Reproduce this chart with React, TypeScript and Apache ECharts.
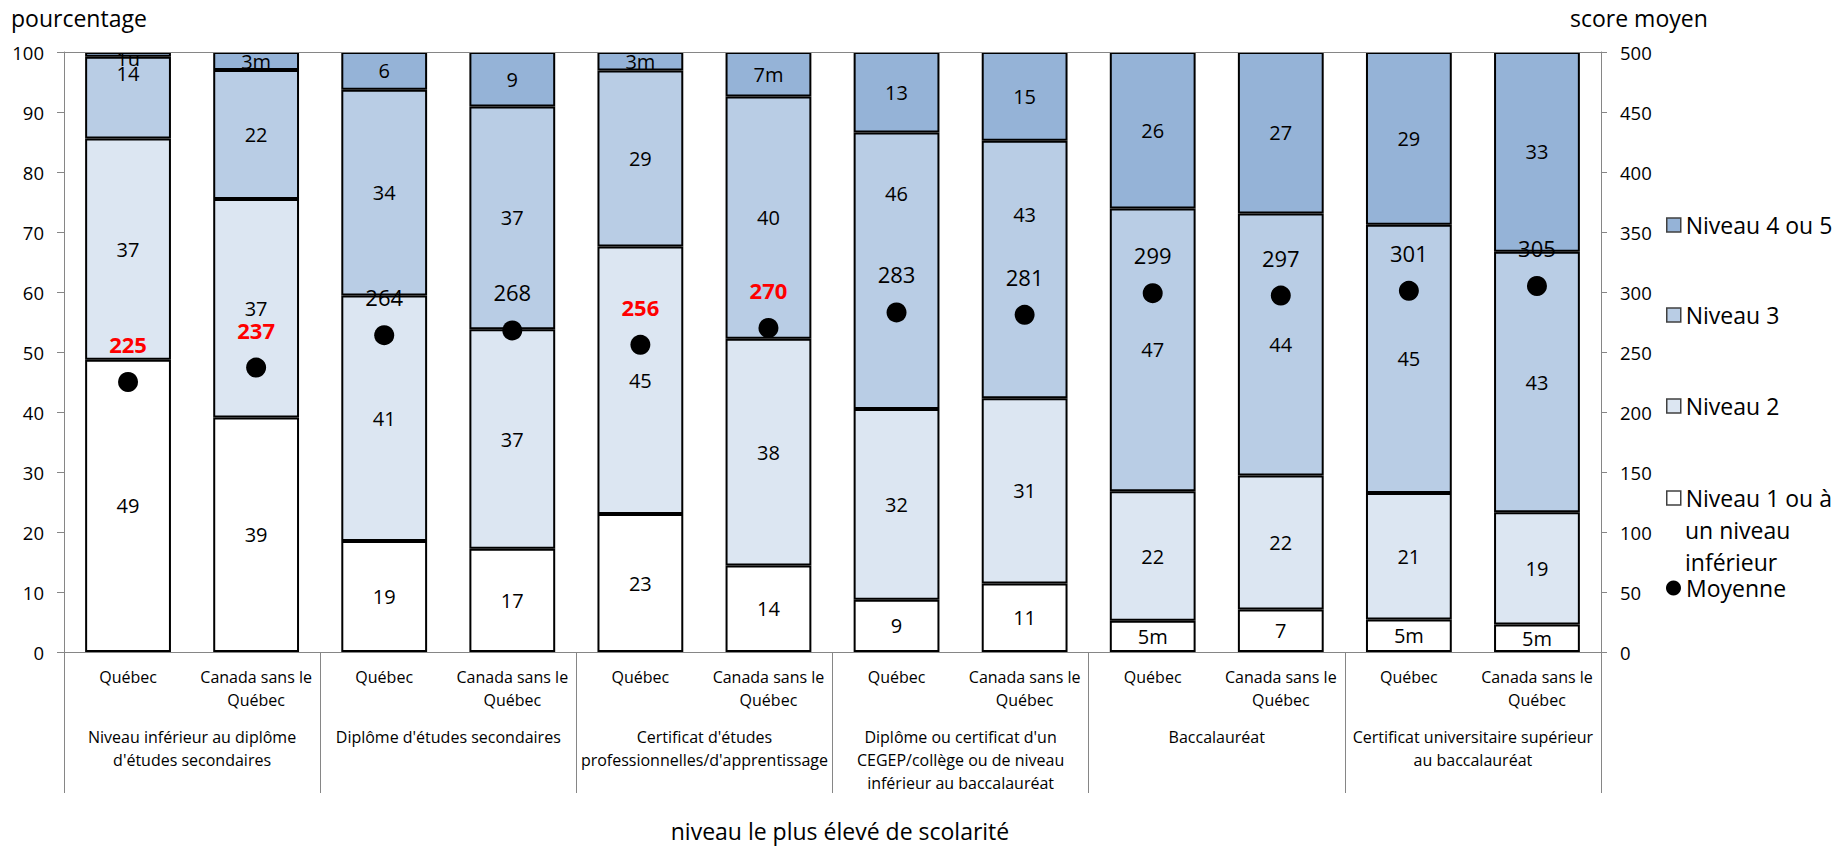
import React, { useEffect, useRef } from 'react';
import * as echarts from 'echarts';

const categories = [
  'Québec', 'Canada sans le\nQuébec',
  'Québec', 'Canada sans le\nQuébec',
  'Québec', 'Canada sans le\nQuébec',
  'Québec', 'Canada sans le\nQuébec',
  'Québec', 'Canada sans le\nQuébec',
  'Québec', 'Canada sans le\nQuébec',
];

const groupLabels = [
  'Niveau inférieur au diplôme\nd\'études secondaires',
  'Diplôme d\'études secondaires',
  'Certificat d\'études\nprofessionnelles/d\'apprentissage',
  'Diplôme ou certificat d\'un\nCEGEP/collège ou de niveau\ninférieur au baccalauréat',
  'Baccalauréat',
  'Certificat universitaire supérieur\nau baccalauréat',
];

const seriesNames = ['Niveau 1 ou à un niveau inférieur', 'Niveau 2', 'Niveau 3', 'Niveau 4 ou 5', 'Moyenne'];

const niveau1 = [48.7, 39.1, 18.5, 17.2, 23.0, 14.4, 8.7, 11.4, 5.2, 7.1, 5.4, 4.6];
const niveau2 = [36.9, 36.4, 40.9, 36.6, 44.6, 37.8, 31.8, 30.9, 21.6, 22.3, 21.1, 18.7];
const niveau3 = [13.6, 21.5, 34.3, 37.1, 29.3, 40.4, 46.1, 42.9, 47.1, 43.7, 44.7, 43.4];
const niveau45 = [0.8, 3.0, 6.3, 9.1, 3.1, 7.4, 13.4, 14.8, 26.1, 26.9, 28.8, 33.3];

const labels1 = ['49', '39', '19', '17', '23', '14', '9', '11', '5m', '7', '5m', '5m'];
const labels2 = ['37', '37', '41', '37', '45', '38', '32', '31', '22', '22', '21', '19'];
const labels3 = ['14', '22', '34', '37', '29', '40', '46', '43', '47', '44', '45', '43'];
const labels45 = ['1u', '3m', '6', '9', '3m', '7m', '13', '15', '26', '27', '29', '33'];

const moyenne = [225, 237, 264, 268, 256, 270, 283, 281, 299, 297, 301, 305];
const moyenneSignificative = [true, true, false, false, true, true, false, false, false, false, false, false];

const leftTicks = { min: 0, max: 100, interval: 10 };
const rightTicks = { min: 0, max: 500, interval: 50 };

// label shifts (px) to reproduce manually moved data labels
const shift3 = [-24, 0, 0, 0, 0, 0, -77, -55, 0, 0, 0, 0];
const shift45 = [4, 0, 0, 0, 0, 0, 0, 0, 0, 0, 0, 0];

const FONT = 'Open Sans';
const AXIS_GRAY = '#868686';
const colors = ['#FFFFFF', '#DCE6F2', '#B9CDE5', '#95B3D7'];

function barSeries(name: string, values: number[], texts: string[], color: string, shifts?: number[]) {
  return {
    name,
    type: 'bar',
    stack: 'total',
    barWidth: '67%',
    xAxisIndex: 0,
    yAxisIndex: 0,
    itemStyle: { color, borderColor: '#000000', borderWidth: 2, opacity: 1 },
    data: values.map((v, i) => {
      const item: any = { value: v };
      if (shifts && shifts[i]) item.label = { offset: [0, shifts[i]] };
      return item;
    }),
    label: {
      show: true,
      position: 'inside',
      fontFamily: FONT,
      fontSize: 20,
      color: '#000000',
      formatter: (p: any) => texts[p.dataIndex],
    },
  };
}

export default function App() {
  const ref = useRef<HTMLDivElement>(null);
  useEffect(() => {
    if (!ref.current) return;
    const chart = echarts.init(ref.current, null, { renderer: 'svg' });

    const legendCommon = {
      orient: 'vertical',
      left: 1666,
      padding: 0,
      itemWidth: 14,
      itemHeight: 14,
      icon: 'rect',
      selectedMode: false,
      textStyle: { fontFamily: FONT, fontSize: 23, lineHeight: 32, color: '#000000' },
      itemStyle: { borderColor: '#404040', borderWidth: 1.5, opacity: 1 },
    };

    const n4 = barSeries(seriesNames[3], niveau45, labels45, colors[3], shift45) as any;
    n4.markLine = {
      silent: true,
      symbol: ['none', 'none'],
      label: { show: false },
      lineStyle: { color: AXIS_GRAY, type: 'solid', width: 1 },
      data: [{ yAxis: 100 }],
    };

    const option: any = {
      animation: false,
      backgroundColor: '#ffffff',
      textStyle: { fontFamily: FONT },
      grid: { left: 64, right: 246, top: 52, bottom: 194, containLabel: false },
      legend: [
        { ...legendCommon, data: [seriesNames[3]], top: 209 },
        { ...legendCommon, data: [seriesNames[2]], top: 299 },
        { ...legendCommon, data: [seriesNames[1]], top: 390 },
        { ...legendCommon, data: [seriesNames[0]], top: 482, formatter: () => 'Niveau 1 ou à' },
        {
          ...legendCommon,
          data: [seriesNames[4]],
          top: 572,
          icon: 'circle',
          itemWidth: 15,
          itemHeight: 15,
          itemStyle: { borderWidth: 0, color: '#000000', opacity: 1 },
        },
      ],
      xAxis: [
        {
          type: 'category',
          data: categories,
          position: 'bottom',
          axisLine: { show: true, lineStyle: { color: AXIS_GRAY, width: 1 } },
          axisTick: { show: false },
          axisLabel: {
            interval: 0,
            margin: 13,
            fontFamily: FONT,
            fontSize: 16,
            lineHeight: 23,
            color: '#000000',
          },
          splitLine: { show: false },
        },
        {
          type: 'category',
          data: groupLabels,
          position: 'bottom',
          gridIndex: 0,
          axisLine: { show: false },
          axisTick: { show: true, length: 141, interval: 0, lineStyle: { color: AXIS_GRAY, width: 1 } },
          axisLabel: {
            interval: 0,
            margin: 73,
            fontFamily: FONT,
            fontSize: 16,
            lineHeight: 23,
            color: '#000000',
          },
          splitLine: { show: false },
        },
      ],
      yAxis: [
        {
          type: 'value',
          ...leftTicks,
          position: 'left',
          axisLine: { show: true, lineStyle: { color: AXIS_GRAY, width: 1 } },
          axisTick: { show: true, length: 7, lineStyle: { color: AXIS_GRAY } },
          axisLabel: { margin: 20, fontFamily: FONT, fontSize: 18.5, color: '#000000' },
          splitLine: { show: false },
        },
        {
          type: 'value',
          ...rightTicks,
          position: 'right',
          axisLine: { show: true, lineStyle: { color: AXIS_GRAY, width: 1 } },
          axisTick: { show: true, length: 6, lineStyle: { color: AXIS_GRAY } },
          axisLabel: { margin: 19, fontFamily: FONT, fontSize: 18.5, color: '#000000' },
          splitLine: { show: false },
        },
      ],
      series: [
        barSeries(seriesNames[0], niveau1, labels1, colors[0]),
        barSeries(seriesNames[1], niveau2, labels2, colors[1]),
        barSeries(seriesNames[2], niveau3, labels3, colors[2], shift3),
        n4,
        {
          name: seriesNames[4],
          type: 'scatter',
          xAxisIndex: 0,
          yAxisIndex: 1,
          symbol: 'circle',
          symbolSize: 20,
          z: 10,
          itemStyle: { color: '#000000', opacity: 1 },
          data: moyenne.map((v, i) => ({
            value: v,
            label: moyenneSignificative[i]
              ? { color: '#FF0000', fontWeight: 'bold' }
              : { color: '#000000', fontWeight: 'normal' },
          })),
          label: {
            show: true,
            position: 'top',
            distance: 15,
            fontFamily: FONT,
            fontSize: 22,
            lineHeight: 26,
            opacity: 1,
            formatter: (p: any) => String(moyenne[p.dataIndex]),
          },
        },
      ],
      graphic: [
        {
          type: 'text',
          left: 11,
          top: 4,
          style: { text: 'pourcentage', fontFamily: FONT, fontSize: 23, lineHeight: 28, fill: '#000000' },
        },
        {
          type: 'text',
          left: 1570,
          top: 4,
          style: { text: 'score moyen', fontFamily: FONT, fontSize: 23, lineHeight: 28, fill: '#000000' },
        },
        {
          type: 'text',
          x: 840,
          y: 817,
          style: {
            text: 'niveau le plus élevé de scolarité',
            fontFamily: FONT,
            fontSize: 23,
            lineHeight: 28,
            fill: '#000000',
            align: 'center',
            verticalAlign: 'top',
          },
        },
        {
          type: 'text',
          x: 1685,
          y: 514,
          style: {
            text: 'un niveau\ninférieur',
            fontFamily: FONT,
            fontSize: 23,
            lineHeight: 32,
            fill: '#000000',
            verticalAlign: 'top',
          },
        },
      ],
    };

    chart.setOption(option);
    return () => chart.dispose();
  }, []);

  return (
    <div
      ref={ref}
      style={{ position: 'absolute', left: 0, top: 0, width: 1847, height: 846, background: '#ffffff' }}
    />
  );
}
